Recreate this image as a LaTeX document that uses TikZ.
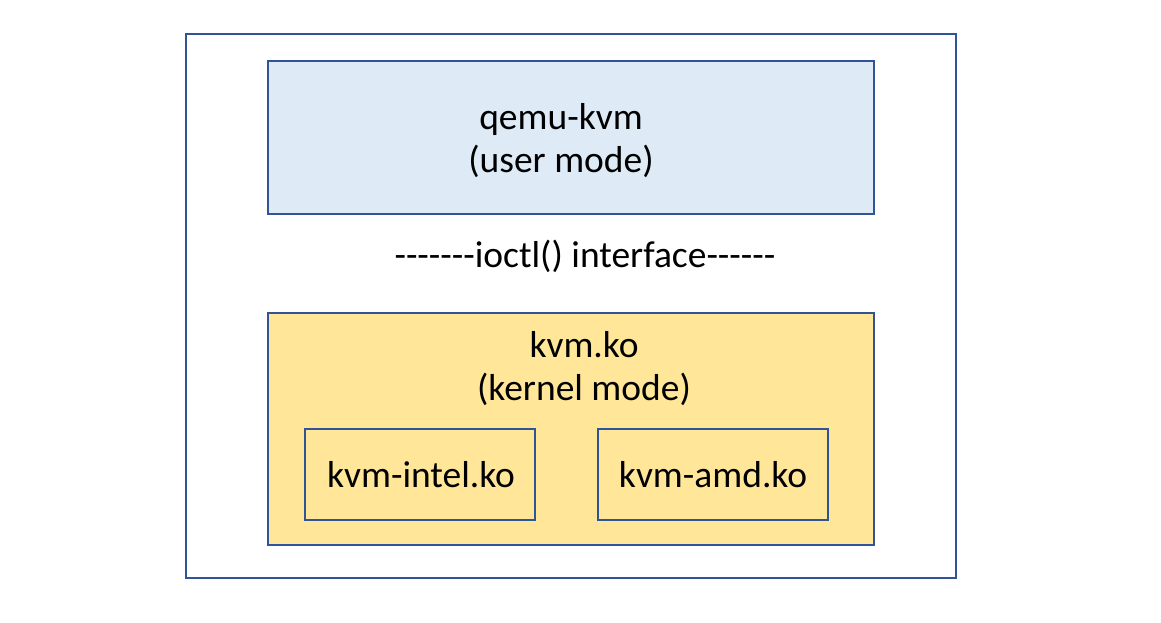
\documentclass[tikz,border=0pt]{standalone}
\usepackage{fontspec}
\setmainfont{Carlito}
\newcommand\hy{-\kern0pt}
\begin{document}
\begin{tikzpicture}[x=1pt,y=-1pt,
  box/.style={draw=boxline,line width=2pt},
  lbl/.style={font=\fontsize{37.5}{43}\selectfont,align=center,inner sep=0pt}]
\definecolor{boxline}{HTML}{2F5597}
\definecolor{bluefill}{HTML}{DEEBF7}
\definecolor{yellowfill}{HTML}{FFE699}
\useasboundingbox (0,0) rectangle (1161,623);
\draw[box] (186,34) rectangle (956,578);
\draw[box,fill=bluefill] (268,61) rectangle (874,214);
\draw[box,fill=yellowfill] (268,313) rectangle (874,545);
\draw[box] (305,429) rectangle (535,520);
\draw[box] (598,429) rectangle (828,520);
\node[lbl] (q) at (561,141) {qemu-kvm\\(user mode)};
\node[lbl] (io) at (585,256) {\hy\hy\hy\hy\hy\hy\hy ioctl() interface\hy\hy\hy\hy\hy -};
\node[lbl] (k) at (584,369) {kvm.ko\\(kernel mode)};
\node[lbl] (ki) at (421,475) {kvm-intel.ko};
\node[lbl] (ka) at (713,475) {kvm-amd.ko};
\end{tikzpicture}
\end{document}
